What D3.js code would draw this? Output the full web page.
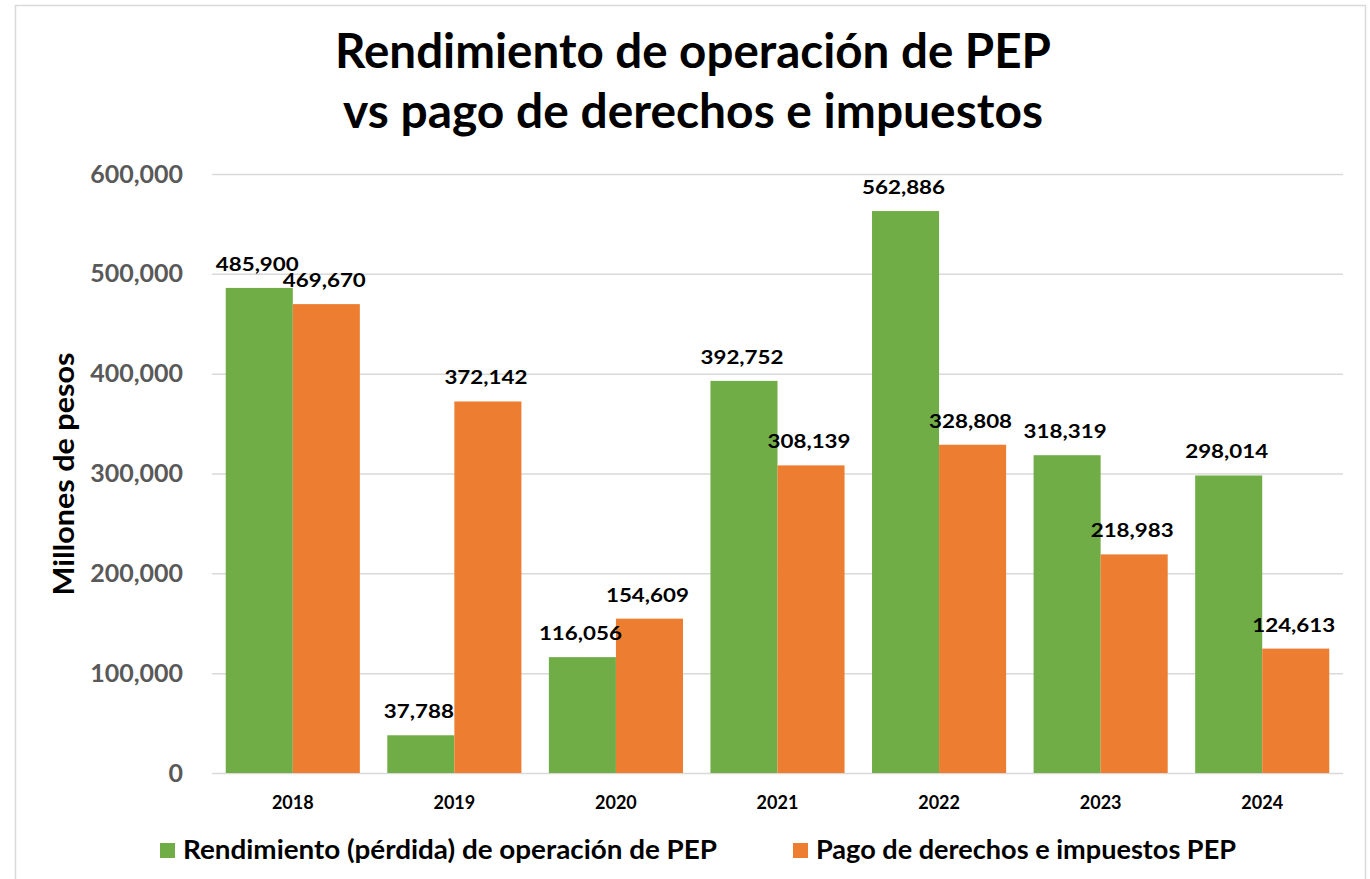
<!DOCTYPE html>
<html>
<head>
<meta charset="utf-8">
<script src="https://cdn.jsdelivr.net/npm/d3@7"></script>
<style>
  html, body { margin:0; padding:0; background:#fff; }
  svg { display:block; font-family: Lato, "Open Sans", sans-serif; }
</style>
</head>
<body>
<svg id="chart" width="1370" height="879"></svg>
<script>
  var years = ['2018','2019','2020','2021','2022','2023','2024'];
  var rendimiento = [485900, 37788, 116056, 392752, 562886, 318319, 298014];
  var pagos = [469670, 372142, 154609, 308139, 328808, 218983, 124613];
  var seriesNames = ['Rendimiento (pérdida) de operación de PEP', 'Pago de derechos e impuestos PEP'];
  var seriesColors = ['#70AD47', '#ED7D31'];
  var yTicks = [0, 100000, 200000, 300000, 400000, 500000, 600000];
  var titleLines = ['Rendimiento de operación de PEP', 'vs pago de derechos e impuestos'];
  var yTitle = 'Millones de pesos';

(function(){
  var svg = d3.select('#chart');
  var fmt = d3.format(',');

  // chart frame
  svg.append('rect')
    .attr('x', 15.5).attr('y', 5.5).attr('width', 1350).attr('height', 900)
    .attr('fill', 'none').attr('stroke', '#D9D9D9').attr('stroke-width', 1.5);

  var plotLeft = 212, plotRight = 1343, plotTop = 174, plotBottom = 773;

  var x = d3.scaleBand().domain(years).range([plotLeft, plotRight]).paddingInner(0.17).paddingOuter(0.085);
  var x1 = d3.scaleBand().domain([0, 1]).range([0, x.bandwidth()]);
  var y = d3.scaleLinear().domain([0, 600000]).range([plotBottom, plotTop]);

  // gridlines + tick labels
  var yAxis = svg.append('g')
    .attr('transform', 'translate(' + plotLeft + ',0)')
    .call(d3.axisLeft(y).tickValues(yTicks).tickSize(-(plotRight - plotLeft)).tickPadding(29).tickFormat(fmt));
  yAxis.select('.domain').remove();
  yAxis.selectAll('.tick line').attr('stroke', '#D9D9D9').attr('stroke-width', 1.5);
  yAxis.selectAll('.tick text')
    .attr('fill', '#595959').attr('font-size', 25).attr('font-weight', 700)
    .attr('font-family', 'Lato, sans-serif');

  // bars
  var data = years.map(function(yr, i){ return { year: yr, vals: [rendimiento[i], pagos[i]] }; });
  var groups = svg.append('g').selectAll('g').data(data).enter().append('g')
    .attr('transform', function(d){ return 'translate(' + x(d.year) + ',0)'; });

  groups.selectAll('rect').data(function(d){ return d.vals; }).enter().append('rect')
    .attr('x', function(d, i){ return x1(i); })
    .attr('width', x1.bandwidth())
    .attr('y', function(d){ return y(d); })
    .attr('height', function(d){ return y(0) - y(d); })
    .attr('fill', function(d, i){ return seriesColors[i]; });

  groups.selectAll('text.val').data(function(d){ return d.vals; }).enter().append('text')
    .attr('class', 'val')
    .attr('x', function(d, i){ return x1(i) + x1.bandwidth() / 2 - 2; })
    .attr('y', function(d){ return y(d) - 17; })
    .attr('text-anchor', 'middle')
    .attr('font-size', 19).attr('font-weight', 700).attr('fill', '#000')
    .attr('textLength', function(d){ return d < 100000 ? 70 : 83; })
    .attr('lengthAdjust', 'spacingAndGlyphs')
    .text(function(d){ return fmt(d); });

  // x labels
  svg.append('g').selectAll('text').data(years).enter().append('text')
    .attr('x', function(d){ return x(d) + x.bandwidth() / 2; })
    .attr('y', 809)
    .attr('text-anchor', 'middle')
    .attr('font-size', 18).attr('font-weight', 700).attr('fill', '#000')
    .text(function(d){ return d; });

  // title
  svg.append('g').selectAll('text').data(titleLines).enter().append('text')
    .attr('x', 693)
    .attr('y', function(d, i){ return 68 + i * 60; })
    .attr('text-anchor', 'middle')
    .attr('font-size', 48).attr('font-weight', 700).attr('fill', '#000')
    .attr('textLength', function(d, i){ return i === 0 ? 716 : 700; })
    .attr('lengthAdjust', 'spacingAndGlyphs')
    .text(function(d){ return d; });

  // y title
  svg.append('text')
    .attr('transform', 'translate(74,474) rotate(-90)')
    .attr('text-anchor', 'middle')
    .attr('font-size', 28).attr('font-weight', 700).attr('fill', '#000')
    .attr('textLength', 243).attr('lengthAdjust', 'spacingAndGlyphs')
    .text(yTitle);

  // legend
  var legendX = [160, 793];
  var legendLen = [534, 420];
  var legend = svg.append('g').selectAll('g').data(seriesNames).enter().append('g')
    .attr('transform', function(d, i){ return 'translate(' + legendX[i] + ',843)'; });
  legend.append('rect')
    .attr('width', 15).attr('height', 15)
    .attr('fill', function(d, i){ return seriesColors[i]; });
  legend.append('text')
    .attr('x', 23).attr('y', 16)
    .attr('font-size', 26).attr('font-weight', 700).attr('fill', '#000')
    .attr('textLength', function(d, i){ return legendLen[i]; })
    .attr('lengthAdjust', 'spacingAndGlyphs')
    .text(function(d){ return d; });
})();
</script>
</body>
</html>
